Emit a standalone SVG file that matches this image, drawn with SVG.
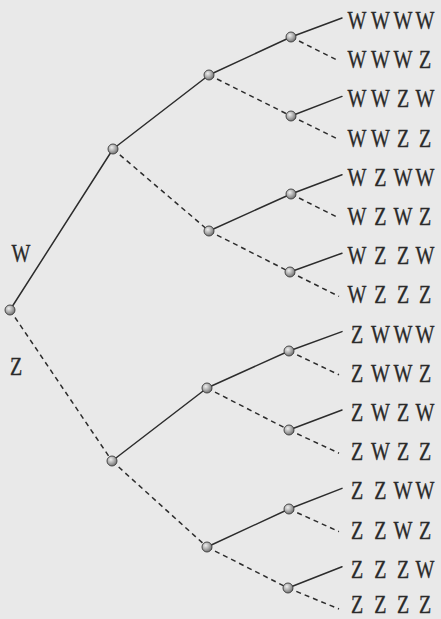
<svg xmlns="http://www.w3.org/2000/svg" width="441" height="619" viewBox="0 0 441 619">
<defs>
<radialGradient id="ball" cx="0.38" cy="0.35" r="0.7">
<stop offset="0" stop-color="#eeeeee"/>
<stop offset="0.55" stop-color="#a8a8a8"/>
<stop offset="1" stop-color="#6a6a6a"/>
</radialGradient>
<style>
.w{stroke:#2c2c2c;stroke-width:1.5;fill:none;stroke-linecap:round}
.z{stroke:#2c2c2c;stroke-width:1.5;fill:none;stroke-dasharray:5 4}
.n{fill:url(#ball);stroke:#3a3a3a;stroke-width:0.9}
.t{font-family:"Liberation Serif","Times New Roman",serif;font-size:25px;fill:#2a2a2a;stroke:#2a2a2a;stroke-width:0.35;text-anchor:middle}
</style>
</defs>
<rect width="441" height="619" fill="#e9e9e9"/>
<g id="connectors">
<line class="w" x1="10" y1="310" x2="113" y2="149"/>
<line class="z" x1="10" y1="310" x2="112" y2="461"/>
<line class="w" x1="113" y1="149" x2="209" y2="75"/>
<line class="z" x1="113" y1="149" x2="209" y2="231"/>
<line class="w" x1="112" y1="461" x2="207" y2="388"/>
<line class="z" x1="112" y1="461" x2="207" y2="547"/>
<line class="w" x1="209" y1="75" x2="291" y2="37"/>
<line class="z" x1="209" y1="75" x2="291" y2="116"/>
<line class="w" x1="209" y1="231" x2="291" y2="194"/>
<line class="z" x1="209" y1="231" x2="290" y2="272"/>
<line class="w" x1="207" y1="388" x2="289" y2="351"/>
<line class="z" x1="207" y1="388" x2="289" y2="430"/>
<line class="w" x1="207" y1="547" x2="289" y2="509"/>
<line class="z" x1="207" y1="547" x2="288" y2="588"/>
<line class="w" x1="291" y1="37" x2="342" y2="18"/>
<line class="z" x1="291" y1="37" x2="339" y2="61"/>
<line class="w" x1="291" y1="116" x2="342" y2="96.4"/>
<line class="z" x1="291" y1="116" x2="339" y2="139.6"/>
<line class="w" x1="291" y1="194" x2="342" y2="174.8"/>
<line class="z" x1="291" y1="194" x2="339" y2="218"/>
<line class="w" x1="290" y1="272" x2="342" y2="253.2"/>
<line class="z" x1="290" y1="272" x2="339" y2="296.4"/>
<line class="w" x1="289" y1="351" x2="342" y2="331.6"/>
<line class="z" x1="289" y1="351" x2="339" y2="374.8"/>
<line class="w" x1="289" y1="430" x2="342" y2="410"/>
<line class="z" x1="289" y1="430" x2="339" y2="453.2"/>
<line class="w" x1="289" y1="509" x2="342" y2="488.4"/>
<line class="z" x1="289" y1="509" x2="339" y2="531.6"/>
<line class="w" x1="288" y1="588" x2="342" y2="566.8"/>
<line class="z" x1="288" y1="588" x2="339" y2="609"/>
</g>
<g id="root"><circle class="n" cx="10" cy="310" r="5"/></g>
<g id="node-W"><circle class="n" cx="113" cy="149" r="5"/></g>
<g id="node-Z"><circle class="n" cx="112" cy="461" r="5"/></g>
<g id="node-WW"><circle class="n" cx="209" cy="75" r="5"/></g>
<g id="node-WZ"><circle class="n" cx="209" cy="231" r="5"/></g>
<g id="node-ZW"><circle class="n" cx="207" cy="388" r="5"/></g>
<g id="node-ZZ"><circle class="n" cx="207" cy="547" r="5"/></g>
<g id="node-WWW"><circle class="n" cx="291" cy="37" r="5"/></g>
<g id="node-WWZ"><circle class="n" cx="291" cy="116" r="5"/></g>
<g id="node-WZW"><circle class="n" cx="291" cy="194" r="5"/></g>
<g id="node-WZZ"><circle class="n" cx="290" cy="272" r="5"/></g>
<g id="node-ZWW"><circle class="n" cx="289" cy="351" r="5"/></g>
<g id="node-ZWZ"><circle class="n" cx="289" cy="430" r="5"/></g>
<g id="node-ZZW"><circle class="n" cx="289" cy="509" r="5"/></g>
<g id="node-ZZZ"><circle class="n" cx="288" cy="588" r="5"/></g>
<g id="label-W"><text class="t" transform="scale(0.8 1)" x="26.25" y="262">W</text></g>
<g id="label-Z"><text class="t" transform="scale(0.8 1)" x="20" y="375">Z</text></g>
<g id="leaves" transform="scale(0.8 1)">
<g id="leaf-WWWW"><text class="t" x="446.25 475.6 503.75 531.25" y="29">WWWW</text></g>
<g id="leaf-WWWZ"><text class="t" x="446.25 475.6 503.75 531.25" y="68.2">WWWZ</text></g>
<g id="leaf-WWZW"><text class="t" x="446.25 475.6 503.75 531.25" y="107.4">WWZW</text></g>
<g id="leaf-WWZZ"><text class="t" x="446.25 475.6 503.75 531.25" y="146.6">WWZZ</text></g>
<g id="leaf-WZWW"><text class="t" x="446.25 475.6 503.75 531.25" y="185.8">WZWW</text></g>
<g id="leaf-WZWZ"><text class="t" x="446.25 475.6 503.75 531.25" y="225">WZWZ</text></g>
<g id="leaf-WZZW"><text class="t" x="446.25 475.6 503.75 531.25" y="264.2">WZZW</text></g>
<g id="leaf-WZZZ"><text class="t" x="446.25 475.6 503.75 531.25" y="303.4">WZZZ</text></g>
<g id="leaf-ZWWW"><text class="t" x="446.25 475.6 503.75 531.25" y="342.6">ZWWW</text></g>
<g id="leaf-ZWWZ"><text class="t" x="446.25 475.6 503.75 531.25" y="381.8">ZWWZ</text></g>
<g id="leaf-ZWZW"><text class="t" x="446.25 475.6 503.75 531.25" y="421">ZWZW</text></g>
<g id="leaf-ZWZZ"><text class="t" x="446.25 475.6 503.75 531.25" y="460.2">ZWZZ</text></g>
<g id="leaf-ZZWW"><text class="t" x="446.25 475.6 503.75 531.25" y="499.4">ZZWW</text></g>
<g id="leaf-ZZWZ"><text class="t" x="446.25 475.6 503.75 531.25" y="538.6">ZZWZ</text></g>
<g id="leaf-ZZZW"><text class="t" x="446.25 475.6 503.75 531.25" y="577.8">ZZZW</text></g>
<g id="leaf-ZZZZ"><text class="t" x="446.25 475.6 503.75 531.25" y="613.5">ZZZZ</text></g>
</g>
</svg>
